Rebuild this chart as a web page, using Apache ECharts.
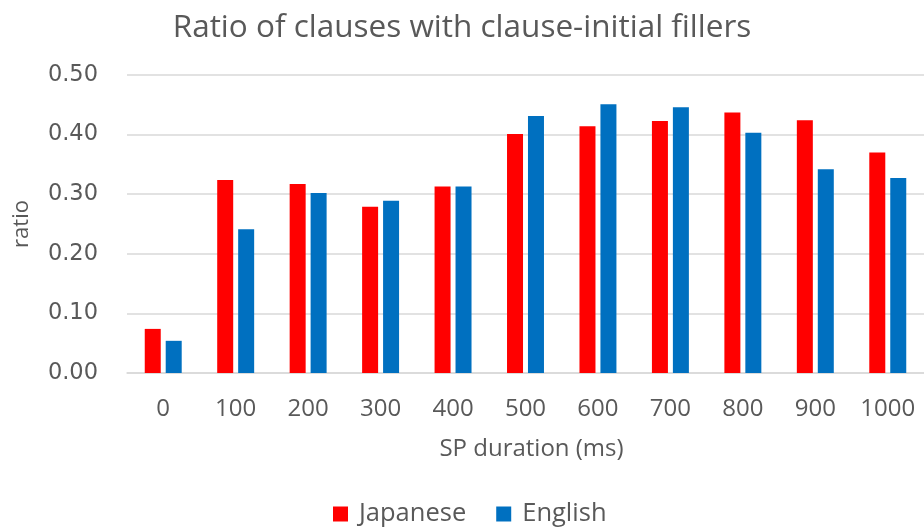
<!DOCTYPE html>
<html>
<head>
<meta charset="utf-8">
<script src="https://cdn.jsdelivr.net/npm/echarts@6/dist/echarts.min.js"></script>
<style>
  html, body { margin: 0; padding: 0; background: #fff; }
  #chart { width: 924px; height: 527px; }
</style>
</head>
<body>
<div id="chart"></div>
<script>
// SP duration buckets (ms)
const categories = ['0', '100', '200', '300', '400', '500', '600', '700', '800', '900', '1000'];
// Ratio of clauses beginning with a filler, per language
const japanese = [0.074, 0.324, 0.317, 0.279, 0.313, 0.401, 0.414, 0.423, 0.437, 0.424, 0.370];
const english  = [0.054, 0.241, 0.302, 0.289, 0.313, 0.431, 0.451, 0.446, 0.403, 0.342, 0.327];
const yTicks = [0, 0.1, 0.2, 0.3, 0.4, 0.5];

const FONT = '"Open Sans"';
const NUM_FONT = '"DejaVu Sans"';
const TEXT = '#595959';
const GRID = '#d9d9d9';

const chart = echarts.init(document.getElementById('chart'), null, { renderer: 'canvas' });
chart.setOption({
  animation: false,
  backgroundColor: '#ffffff',
  title: {
    text: 'Ratio of clauses with clause-initial fillers',
    left: 'center',
    top: 7,
    textStyle: { fontFamily: FONT, fontSize: 31.5, fontWeight: 'normal', color: TEXT }
  },
  legend: {
    data: ['Japanese', 'English'],
    left: 333,
    top: 501,
    padding: 0,
    icon: 'rect',
    itemWidth: 15,
    itemHeight: 15,
    itemGap: 30,
    textStyle: { fontFamily: FONT, fontSize: 25.5, color: TEXT, padding: [0, 0, 0, 6] }
  },
  grid: { left: 127, top: 75, width: 801, height: 298, containLabel: false },
  xAxis: {
    type: 'category',
    data: categories,
    boundaryGap: true,
    axisLine: { show: true, lineStyle: { color: GRID, width: 1.5 } },
    axisTick: { show: false },
    axisLabel: { fontFamily: FONT, fontSize: 24, color: TEXT, margin: 24 },
    name: 'SP duration (ms)',
    nameLocation: 'middle',
    nameGap: 64,
    nameTextStyle: { fontFamily: FONT, fontSize: 24, color: TEXT, padding: [0, 0, 0, 12] }
  },
  yAxis: {
    type: 'value',
    min: yTicks[0],
    max: yTicks[yTicks.length - 1],
    interval: 0.1,
    axisLine: { show: false },
    axisTick: { show: false },
    splitLine: { lineStyle: { color: GRID, width: 1.5 } },
    axisLabel: {
      fontFamily: NUM_FONT, fontSize: 22.5, color: TEXT, margin: 29,
      formatter: v => v.toFixed(2)
    },
    name: 'ratio',
    nameLocation: 'middle',
    nameRotate: 90,
    nameGap: 94,
    nameTextStyle: { fontFamily: FONT, fontSize: 22, color: TEXT }
  },
  series: [
    {
      name: 'Japanese',
      type: 'bar',
      data: japanese,
      barWidth: 16,
      barGap: '31%',
      itemStyle: { color: '#ff0000' }
    },
    {
      name: 'English',
      type: 'bar',
      data: english,
      barWidth: 16,
      barGap: '31%',
      itemStyle: { color: '#0070c0' }
    }
  ]
});
</script>
</body>
</html>
